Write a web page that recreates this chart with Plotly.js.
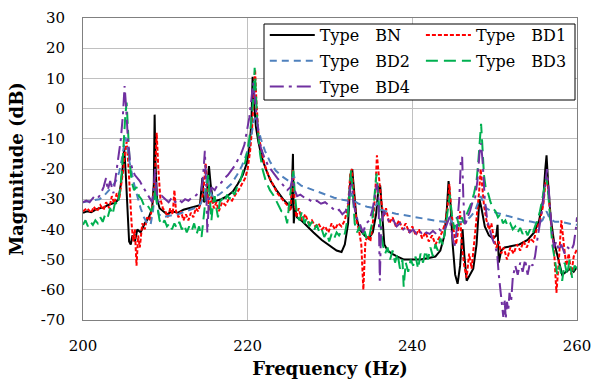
<!DOCTYPE html>
<html>
<head>
<meta charset="utf-8">
<script src="https://cdn.plot.ly/plotly-3.0.1.min.js"></script>
<style>html,body{margin:0;padding:0;background:#fff;}#chart{width:592px;height:379px;}</style>
</head>
<body>
<div id="chart"></div>
<script>
// ---------- DATA ----------
const seriesNames = ["Type\u3000BN", "Type\u3000BD1", "Type\u3000BD2", "Type\u3000BD3", "Type\u3000BD4"];
const xTickVals = [200, 220, 240, 260];
const xTickText = ["200", "220", "240", "260"];
const yTickVals = [30, 20, 10, 0, -10, -20, -30, -40, -50, -60, -70];
const yTickText = ["30", "20", "10", "0", "-10", "-20", "-30", "-40", "-50", "-60", "-70"];

const bnFreq = [200,200.5,201,201.5,202,202.5,203,203.5,204,204.3,204.6,204.8,205.0,205.2,205.4,205.6,205.8,206.0,206.3,206.6,207.0,207.5,208.0,208.4,208.6,208.7,208.8,209.0,209.3,209.7,210.2,210.8,211.5,212.2,212.8,213.5,214.2,214.5,214.7,215.0,215.3,215.5,215.8,216.2,216.8,217.5,218.2,218.8,219.4,219.9,220.2,220.45,220.6,220.75,221.0,221.3,221.7,222.2,222.8,223.5,224.3,225.0,225.3,225.5,225.6,225.75,226.0,226.5,227.2,228.0,229.0,230.0,230.8,231.4,231.8,232.2,232.5,232.7,232.9,233.2,233.6,234.2,234.7,235.2,235.6,235.9,236.1,236.3,236.6,237.0,237.5,238.2,239.0,240.0,241.0,242.0,242.8,243.4,243.9,244.2,244.4,244.6,244.9,245.2,245.5,245.8,246.0,246.1,246.3,246.6,247.0,247.4,247.8,248.0,248.15,248.4,248.8,249.3,249.8,250.2,250.35,250.5,250.8,251.2,252.0,253.0,254.0,254.8,255.4,255.9,256.15,256.3,256.5,256.8,257.2,257.7,258.2,258.7,259.2,259.6,260];
const bnMag = [-34.5,-34,-34.3,-33.5,-33,-32.8,-32,-31.5,-31,-30,-25,-20,-13,-22,-35,-44,-45,-42,-44,-40,-41,-38,-36,-33,-25,-2,-18,-30,-33,-34,-35,-34,-34.5,-33.5,-33,-32.5,-32,-23,-31,-30,-19,-25,-31,-30.5,-30,-29,-27.5,-25,-22,-18,-13,-5,10.5,3,-6,-11,-16,-20,-24,-27,-30,-32,-33,-15,-38,-33,-36,-37,-39,-41,-43.5,-45.5,-47,-47.5,-45,-38,-22,-20,-26,-36,-40,-42,-43,-41,-35,-26,-25.5,-35,-45,-47,-48,-49,-50,-50,-50,-49.5,-49,-47,-42,-33,-24,-30,-45,-55,-58,-52,-45,-40,-48,-57,-55,-53,-45,-36,-30,-33,-39,-42,-43,-42,-38.5,-51,-47,-46,-45.5,-45,-43.5,-41,-37,-30,-20,-15.5,-25,-36,-44,-50,-55,-54,-53,-54,-52.5];

const bd1Freq = [200,200.5,201,201.3,201.7,202.1,202.5,202.8,203.2,203.5,203.8,204.1,204.4,204.7,204.9,205.1,205.3,205.5,205.7,205.9,206.1,206.3,206.5,206.7,206.9,207.2,207.5,207.8,208.1,208.4,208.7,208.95,209.15,209.4,209.7,210.0,210.3,210.6,210.9,211.1,211.3,211.6,211.9,212.2,212.5,212.8,213.1,213.4,213.7,214.0,214.3,214.6,214.9,215.1,215.3,215.6,215.9,216.2,216.5,216.9,217.3,217.7,218.1,218.5,218.9,219.3,219.7,220.0,220.3,220.55,220.75,220.9,221.05,221.3,221.6,222.0,222.5,223.0,223.6,224.2,224.8,225.2,225.5,225.7,225.9,226.2,226.6,227.0,227.4,227.8,228.2,228.6,229.0,229.4,229.8,230.2,230.6,231.0,231.4,231.8,232.2,232.45,232.65,232.9,233.2,233.5,233.8,234.05,234.3,234.6,234.9,235.2,235.5,235.7,235.9,236.2,236.5,236.8,237.2,237.6,238.0,238.4,238.8,239.2,239.6,240.0,240.4,240.8,241.2,241.6,242.0,242.4,242.8,243.2,243.6,244.0,244.3,244.5,244.7,245.0,245.3,245.6,245.8,246.0,246.3,246.6,246.9,247.2,247.5,247.8,248.1,248.3,248.5,248.7,249.0,249.3,249.6,249.9,250.2,250.5,250.8,251.1,251.5,251.9,252.3,252.7,253.1,253.5,253.9,254.3,254.7,255.1,255.5,255.9,256.2,256.35,256.6,256.9,257.2,257.5,257.8,258.1,258.4,258.7,259.0,259.3,259.6,260];
const bd1Mag = [-34,-33,-34.5,-32.5,-34,-32,-33.5,-31,-33,-29,-31.5,-28,-30,-24,-20,-14,-11,-18,-30,-38,-44,-40,-52,-42,-46,-38,-40,-36,-37,-33,-25,-8,-20,-30,-33,-34,-36,-33,-35,-27,-34,-36,-34,-37,-35,-37,-34.5,-36,-33,-34,-31,-28,-18,-25,-34,-29,-33,-31,-34,-31,-32,-30,-30.5,-28.5,-27,-25,-23,-20,-14,-6,5,13,3,-8,-13,-18,-22,-25,-28,-30,-32,-34,-20,-30,-36,-33,-37,-35,-38,-37,-39,-38,-40,-39,-41,-38,-40,-38,-39,-37,-32,-22,-20,-28,-37,-40,-45,-60,-44,-42,-44,-38,-28,-15.5,-22,-30,-36,-33,-38,-36,-39,-37,-40,-38,-41,-39,-42,-40,-43,-41,-44,-42,-45,-43,-41,-38,-32,-25,-33,-40,-45,-40,-34,-45,-52,-56,-48,-53,-45,-38,-28,-20,-25,-32,-37,-40,-38,-43,-46,-44,-48,-46,-50,-46,-48,-45,-47,-44,-46,-43,-44,-40,-37,-32,-24,-22.5,-30,-40,-46,-61,-50,-37,-45,-52,-48,-55,-49,-46.5];

const bd2Freq = [200,201,202,202.5,203,203.5,204,204.4,204.7,204.95,205.15,205.35,205.6,205.9,206.2,206.6,207.0,207.4,207.8,208.2,208.5,208.7,208.9,209.2,209.7,210.5,211.5,212.5,213.5,214.3,214.8,215.1,215.4,215.8,216.5,217.2,218.0,218.7,219.3,219.8,220.2,220.5,220.75,220.95,221.2,221.6,222.1,222.7,223.4,224.2,225.0,225.4,225.6,225.8,226.5,227.5,228.5,229.5,230.5,231.5,232.3,232.6,232.9,233.5,234.5,235.4,235.8,236.2,237.0,238.0,239.0,240.0,241.0,242.0,243.0,244.0,244.5,244.9,245.5,246.0,246.5,247.0,247.6,248.0,248.3,248.6,249.0,249.6,250.4,251.5,252.5,253.5,254.5,255.3,255.8,256.3,256.7,257.3,258.0,258.7,259.4,260];
const bd2Mag = [-31,-30.5,-30,-29,-27.5,-26,-24,-21,-17,-12,-9.5,-12,-17,-21,-25,-29,-33,-36,-38,-38.5,-34,-28,-30,-35,-36,-35.5,-35,-34,-33,-31.5,-28,-22,-27,-29.5,-28.5,-27,-25,-22,-19,-15.5,-12,-8,-4,-3,-6,-10,-14,-17.5,-20.5,-22.5,-24,-23,-22,-24,-25.5,-26.5,-27.5,-28.5,-29.5,-30.2,-30.5,-28,-30.5,-31.5,-32.5,-33,-31,-33.5,-34.2,-34.8,-35.3,-35.8,-36.2,-36.7,-37.2,-37.5,-36,-38,-38,-37.5,-37,-36,-34,-31,-29,-31,-33,-34,-34.7,-35.5,-36.2,-37,-37.5,-38,-37,-34,-36.5,-37.5,-37.5,-38,-38.3,-38.5];

const bd3Freq = [200,200.3,200.6,200.9,201.2,201.5,201.8,202.1,202.4,202.7,203.0,203.3,203.6,203.9,204.2,204.5,204.75,204.95,205.15,205.3,205.45,205.65,205.9,206.2,206.5,206.8,207.1,207.4,207.7,208.0,208.3,208.6,208.8,209.0,209.3,209.6,209.9,210.2,210.5,210.8,211.1,211.4,211.7,212.0,212.3,212.6,212.9,213.2,213.5,213.8,214.1,214.4,214.7,214.95,215.2,215.4,215.6,215.8,216.0,216.2,216.4,216.6,216.9,217.2,217.5,217.8,218.1,218.4,218.7,219.0,219.3,219.6,219.9,220.2,220.45,220.7,220.85,221.0,221.2,221.5,221.8,222.2,222.7,223.2,223.7,224.1,224.5,224.8,225.1,225.35,225.55,225.75,226.0,226.3,226.6,226.9,227.2,227.5,227.8,228.1,228.4,228.7,229.0,229.3,229.6,229.9,230.2,230.5,230.8,231.1,231.4,231.8,232.1,232.35,232.55,232.75,233.0,233.3,233.6,233.9,234.2,234.5,234.8,235.1,235.4,235.65,235.85,236.1,236.4,236.7,237.0,237.3,237.6,237.9,238.2,238.5,238.8,238.95,239.2,239.5,239.8,240.1,240.4,240.7,241.0,241.3,241.6,241.9,242.2,242.5,242.8,243.1,243.4,243.7,244.0,244.3,244.55,244.8,245.1,245.4,245.7,246.0,246.3,246.6,246.9,247.2,247.5,247.8,248.0,248.2,248.35,248.5,248.7,248.9,249.2,249.5,249.8,250.1,250.4,250.7,251.0,251.3,251.6,251.9,252.2,252.5,252.8,253.1,253.4,253.7,254.0,254.3,254.6,254.9,255.2,255.5,255.8,256.1,256.3,256.5,256.75,257.0,257.3,257.6,257.9,258.2,258.5,258.8,259.1,259.4,259.7,260];
const bd3Mag = [-38.5,-37,-39,-37.5,-38.5,-37,-38,-36,-37.5,-35,-36,-33,-35,-31,-32,-27,-20,-10,-2,2,-6,-17,-24,-27,-26,-29,-30,-32,-31.5,-33,-34,-31,-26,-32,-37,-38.5,-37,-39,-38,-40,-38,-39.5,-37.5,-40,-38.5,-41,-39,-40.5,-38,-41.5,-39,-42.5,-35,-28,-22,-30,-37,-31,-29,-33,-36,-31,-30,-31,-28.5,-30,-27.5,-28.5,-26,-25,-22,-19,-15,-10,-4,4,13.5,6,-6,-15,-20,-24,-27,-29,-32,-34,-34.5,-38,-30,-24,-20.5,-29,-35.5,-37,-34,-38,-36,-39,-37.5,-40,-38.5,-41,-40,-42.5,-41,-44,-41.5,-43,-41,-42,-40.5,-41.5,-37,-28,-20.5,-27,-38,-41,-39,-42,-40.5,-43.5,-42,-38,-30,-21.5,-28,-38,-45,-48,-46,-50,-47,-51,-48,-53,-50,-59,-51,-54,-50,-52,-49,-53,-48,-51,-47,-50,-46,-49,-45,-47,-43,-45,-40,-34,-28.5,-35,-40,-36,-39,-36,-38,-35,-33,-31,-28,-24,-18,-10,-5,-12,-22,-26,-28,-31,-33,-34,-36,-35,-38,-37,-39,-38,-40,-39,-41,-39.5,-41.5,-40,-42,-40,-41.5,-39,-37,-34,-30,-26,-22.5,-28,-38,-45,-50,-55,-52,-57,-51,-55,-50,-56,-52,-53];

const bd4Freq = [200,200.4,200.8,201.25,201.7,202.1,202.5,202.8,203.0,203.3,203.7,204.0,204.3,204.6,204.85,205.05,205.25,205.45,205.7,206.0,206.3,206.6,206.9,207.3,207.7,208.1,208.4,208.6,208.75,208.9,209.2,209.6,210.0,210.4,210.8,211.2,211.6,212.0,212.4,212.8,213.2,213.6,214.0,214.4,214.65,214.8,214.95,215.1,215.3,215.6,216.0,216.4,216.8,217.2,217.6,218.0,218.4,218.8,219.2,219.6,219.9,220.2,220.45,220.65,220.85,221.05,221.3,221.6,222.0,222.5,223.0,223.6,224.2,224.8,225.2,225.45,225.7,226.0,226.4,226.9,227.4,227.9,228.4,228.9,229.4,229.9,230.3,230.7,231.1,231.5,231.9,232.2,232.45,232.65,232.85,233.2,233.6,234.0,234.4,234.8,235.2,235.5,235.7,235.9,236.05,236.2,236.5,236.9,237.3,237.7,238.1,238.5,238.9,239.3,239.7,240.1,240.5,240.9,241.3,241.7,242.1,242.5,242.9,243.3,243.7,244.1,244.5,244.8,245.1,245.4,245.7,245.9,246.05,246.2,246.4,246.7,247.0,247.3,247.6,247.9,248.15,248.35,248.55,248.8,249.1,249.4,249.7,250.0,250.3,250.5,250.7,250.9,251.05,251.2,251.35,251.5,251.65,251.8,252.0,252.2,252.5,252.8,253.1,253.4,253.7,254.0,254.3,254.6,254.9,255.2,255.5,255.8,256.1,256.35,256.6,256.9,257.2,257.5,257.8,258.1,258.5,258.9,259.3,259.6,259.85,260];
const bd4Mag = [-31,-30.5,-31,-29.5,-30,-28.5,-26,-23,-27,-24,-28,-22,-16,-10,-2,7.5,0,-10,-17,-20,-22,-23,-24,-26,-28,-30,-31,-26,-20,-27,-31,-29,-30,-31,-29.5,-31,-30,-31,-30,-30.5,-29.5,-29,-28,-27,-20,-14,-25,-41,-30,-26,-27,-25,-24.5,-23,-22,-20.5,-19,-17,-15,-12,-8,-3,3,8.5,4,-2,-8,-13,-16,-19,-21,-23,-25,-27,-26,-23,-27,-29,-28.5,-29.5,-30,-31,-30.5,-31.5,-31,-32,-33,-34,-33.5,-35,-34,-31,-26,-25,-31,-36,-38,-41,-38,-37,-33,-28,-25,-30,-57,-40,-34,-36,-38,-37,-39,-38,-40,-39,-41,-40,-41.5,-40.5,-42,-41,-41.5,-40.5,-41.5,-40,-41,-39,-36,-41,-46,-40,-30,-17,-16,-30,-39,-36,-34,-31,-30,-24,-15,-11.5,-18,-30,-37,-40,-43,-45,-48,-55,-60,-64,-69,-63,-69.5,-64,-67,-61,-64,-56,-52,-55,-51,-54,-50,-55,-51,-52,-49,-43,-38,-33,-26,-20,-28,-39,-46,-44,-47,-45,-48,-46,-47,-45,-40,-36];

// ---------- CHART ----------
const FONT = "DejaVu Serif";
const styles = [
  {color: "#000000", dash: "solid", width: 2, legend: "legend"},
  {color: "#ff0000", dash: "4px,2px", width: 2, legend: "legend2"},
  {color: "#4f81bd", dash: "7px,5px", width: 2, legend: "legend"},
  {color: "#00b050", dash: "12px,6px", width: 2, legend: "legend2"},
  {color: "#7030a0", dash: "14px,5px,3px,5px", width: 2, legend: "legend"}
];
const xs = [bnFreq, bd1Freq, bd2Freq, bd3Freq, bd4Freq];
const ys = [bnMag, bd1Mag, bd2Mag, bd3Mag, bd4Mag];

const traces = seriesNames.map((name, i) => ({
  type: "scatter", mode: "lines", name: name,
  x: xs[i], y: ys[i],
  legend: styles[i].legend, legendgroup: "g" + i,
  line: {color: styles[i].color, dash: styles[i].dash, width: styles[i].width},
  hoverinfo: "skip"
}));

const legendCommon = {
  xanchor: "left", yanchor: "top",
  bgcolor: "rgba(0,0,0,0)", borderwidth: 0,
  font: {family: FONT, size: 16, color: "#000"},
  itemwidth: 45, tracegroupgap: 2, traceorder: "grouped",
  itemclick: false, itemdoubleclick: false
};

const layout = {
  width: 592, height: 379,
  margin: {l: 83, r: 15, t: 18, b: 59, pad: 0},
  paper_bgcolor: "#fff", plot_bgcolor: "#fff",
  font: {family: FONT, size: 15, color: "#000"},
  showlegend: true,
  xaxis: {
    range: [200, 260], tickmode: "array", tickvals: xTickVals, ticktext: xTickText,
    showgrid: true, gridcolor: "#c0c0c0", gridwidth: 1, zeroline: false,
    showline: true, linecolor: "#808080", linewidth: 1, mirror: true,
    ticks: "", ticklabelstandoff: 12,
    tickfont: {family: FONT, size: 15, color: "#000"},
    title: {text: "Frequency (Hz)", standoff: 8, font: {family: FONT, size: 18, color: "#000", weight: "bold"}}
  },
  yaxis: {
    range: [-70, 30], tickmode: "array", tickvals: yTickVals, ticktext: yTickText,
    showgrid: true, gridcolor: "#c0c0c0", gridwidth: 1, zeroline: false,
    showline: true, linecolor: "#808080", linewidth: 1, mirror: true,
    ticks: "", ticklabelstandoff: 14,
    tickfont: {family: FONT, size: 15, color: "#000"},
    title: {text: "Magunitude (dB)", standoff: 12, font: {family: FONT, size: 18, color: "#000", weight: "bold"}}
  },
  legend: Object.assign({}, legendCommon, {x: 0.368, y: 1.0}),
  legend2: Object.assign({}, legendCommon, {x: 0.684, y: 1.0}),
  shapes: [{
    type: "rect", xref: "paper", yref: "paper", layer: "above",
    x0: (264 - 83) / 494, x1: (575 - 83) / 494,
    y0: (320 - 100) / 302, y1: (320 - 24) / 302,
    fillcolor: "#ffffff", line: {color: "#000000", width: 1}
  }]
};

Plotly.newPlot("chart", traces, layout, {staticPlot: true, displayModeBar: false});
</script>
</body>
</html>
